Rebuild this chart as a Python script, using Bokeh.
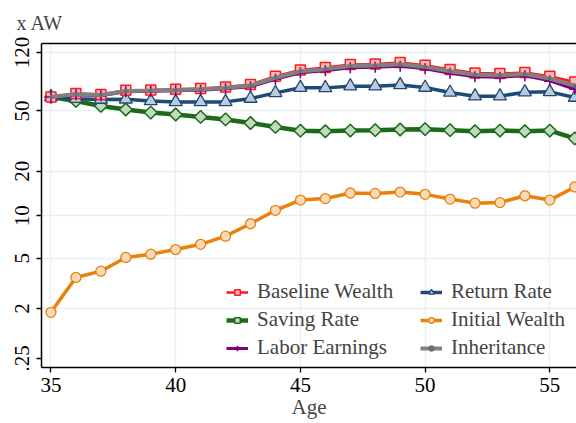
import numpy as np
from bokeh.plotting import figure
from bokeh.models import (ColumnDataSource, Legend, LegendItem, FixedTicker, LinearAxis, Range1d)
from bokeh.embed import file_html
from bokeh.resources import INLINE

# ---------------- data ----------------
ages = list(range(35, 57))
baseline_wealth = [61.7, 65.0, 64.0, 68.3, 68.6, 69.3, 70.1, 71.7, 74.4, 84.2, 92.5,
                   95.9, 100.3, 101.2, 103.3, 99.3, 93.1, 88.5, 87.7, 89.0, 84.2, 77.3]
saving_rate = [61.7, 58.1, 53.9, 51.1, 48.8, 47.4, 45.7, 44.0, 41.7, 39.3, 37.1,
               36.8, 37.2, 37.4, 37.8, 38.0, 37.4, 36.8, 37.2, 36.8, 37.2, 33.0]
labor_earnings = [61.7, 63.8, 62.9, 66.7, 67.2, 67.8, 68.3, 69.8, 72.0, 80.5, 88.7,
                  91.4, 95.6, 96.3, 97.8, 94.2, 88.1, 83.6, 83.0, 84.9, 78.7, 69.3]
return_rate = [61.7, 60.1, 59.4, 59.6, 58.1, 57.3, 57.3, 57.3, 60.3, 65.6, 70.9,
               70.7, 72.5, 72.5, 73.9, 71.1, 66.0, 62.4, 62.4, 66.3, 66.6, 61.2]
initial_wealth = [1.85, 3.58, 4.0, 5.06, 5.35, 5.78, 6.3, 7.2, 8.8, 10.9, 12.8,
                  13.1, 14.3, 14.2, 14.5, 14.0, 13.0, 12.2, 12.3, 13.7, 12.8, 15.7]
inheritance = [61.7, 64.4, 63.5, 67.5, 67.9, 68.5, 69.2, 70.7, 73.2, 82.3, 90.6,
               93.6, 98.0, 98.8, 100.6, 96.8, 90.6, 86.0, 85.3, 87.0, 81.4, 73.0]

y_tick_values = [2, 5, 10, 20, 50, 120]
y_tick_labels = ["2", "5", "10", "20", "50", "120"]
x_ticks = [35, 40, 45, 50, 55]

# vertical axis: log(value + 0.7) scale
OFFSET = 0.7
def T(v):
    return np.log(np.asarray(v, dtype=float) + OFFSET)

FONT = "Liberation Serif"
FS = "21px"

p = figure(width=576, height=423, output_backend="svg", toolbar_location=None,
           x_range=Range1d(34.62, 56.07), y_range=Range1d(0.1175, 4.927),
           min_border_left=41, min_border_right=0, min_border_top=43, min_border_bottom=56)
p.outline_line_color = None
p.background_fill_color = "white"
p.border_fill_color = "white"

bottom_axis = p.below[0]
left_axis = p.left[0]

# title "x AW"
p.title.text = "x AW"
p.title.text_font = FONT
p.title.text_font_size = "20px"
p.title.text_font_style = "normal"
p.title.align = "left"
p.title.offset = -25
p.title.standoff = 19

# top frame line
top_axis = LinearAxis(major_tick_line_color=None, minor_tick_line_color=None,
                      major_label_text_font_size="0px", axis_line_color="black",
                      axis_line_width=1.5, major_label_standoff=0)
top_axis.ticker = FixedTicker(ticks=[])
p.add_layout(top_axis, "above")

src = ColumnDataSource(dict(
    age=ages,
    bw=T(baseline_wealth), sr=T(saving_rate), le=T(labor_earnings),
    rr=T(return_rate), iw=T(initial_wealth), inh=T(inheritance)))

# series
gr_l = p.line("age", "sr", source=src, line_color="#1B6B1B", line_width=4.5)
gr_m = p.scatter("age", "sr", source=src, marker="square", angle=np.pi / 4, size=9,
                 fill_color="#C0D9BF", line_color="#1B6B1B", line_width=1.5)
or_l = p.line("age", "iw", source=src, line_color="#E8820C", line_width=3.5)
or_m = p.scatter("age", "iw", source=src, marker="circle", size=10,
                 fill_color="#F9D9B8", line_color="#E8820C", line_width=1.3)
bl_l = p.line("age", "rr", source=src, line_color="#1F4A76", line_width=3.5)
bl_m = p.scatter("age", "rr", source=src, marker="triangle", size=13,
                 fill_color="#BCCADB", line_color="#1F4A76", line_width=1.3)
rd_l = p.line("age", "bw", source=src, line_color="#FF1A1A", line_width=2.5)
rd_m = p.scatter("age", "bw", source=src, marker="square", size=10,
                 fill_color="#F9B9B9", line_color="#FF1A1A", line_width=1.5)
pu_l = p.line("age", "le", source=src, line_color="#800080", line_width=3)
pu_m = p.scatter("age", "le", source=src, marker="cross", size=11,
                 line_color="#800080", line_width=1.6)
gy_l = p.line("age", "inh", source=src, line_color="#808080", line_width=4)
gy_m = p.scatter("age", "inh", source=src, marker="circle", size=3,
                 fill_color="#6E6E6E", line_color="#6E6E6E")

# axes
bottom_axis.ticker = FixedTicker(ticks=x_ticks)
left_axis.ticker = FixedTicker(ticks=[float(T(0.59))] + [float(t) for t in T(y_tick_values)])
overrides = {float(T(0.59)): ".25"}
for v, lab in zip(y_tick_values, y_tick_labels):
    overrides[float(T(v))] = lab
left_axis.major_label_overrides = overrides
left_axis.major_label_orientation = "vertical"

for ax in (bottom_axis, left_axis):
    ax.axis_line_color = "black"
    ax.axis_line_width = 1.5
    ax.major_tick_line_color = "black"
    ax.major_tick_line_width = 1.3
    ax.major_tick_out = 5
    ax.major_tick_in = 0
    ax.minor_tick_line_color = None
    ax.major_label_text_font = FONT
    ax.major_label_text_font_size = FS
    ax.major_label_text_color = "black"
left_axis.major_label_standoff = 7
bottom_axis.major_label_standoff = 5
bottom_axis.axis_label = "Age"
bottom_axis.axis_label_text_font = FONT
bottom_axis.axis_label_text_font_size = FS
bottom_axis.axis_label_text_font_style = "normal"
bottom_axis.axis_label_standoff = 0

# grid
p.xgrid.ticker = FixedTicker(ticks=x_ticks)
p.ygrid.ticker = FixedTicker(ticks=[float(t) for t in T(y_tick_values)])
p.xgrid.grid_line_color = "#E8F0F2"
p.ygrid.grid_line_color = "#E8F0F2"
p.xgrid.grid_line_width = 1.5
p.ygrid.grid_line_width = 1.5

legend = Legend(items=[
    LegendItem(label="Baseline Wealth", renderers=[rd_l, rd_m]),
    LegendItem(label="Saving Rate", renderers=[gr_l, gr_m]),
    LegendItem(label="Labor Earnings", renderers=[pu_l, pu_m]),
    LegendItem(label="Return Rate", renderers=[bl_l, bl_m]),
    LegendItem(label="Initial Wealth", renderers=[or_l, or_m]),
    LegendItem(label="Inheritance", renderers=[gy_l, gy_m]),
], ncols=2, location=(185, 7))
legend.background_fill_alpha = 0
legend.border_line_color = None
legend.label_text_font = FONT
legend.label_text_font_size = FS
legend.glyph_width = 22
legend.glyph_height = 14
legend.label_standoff = 9
legend.label_width = 160
legend.spacing = 3
legend.padding = 0
legend.margin = 0
p.add_layout(legend, "center")

open("out.html", "w").write(file_html(p, INLINE))
